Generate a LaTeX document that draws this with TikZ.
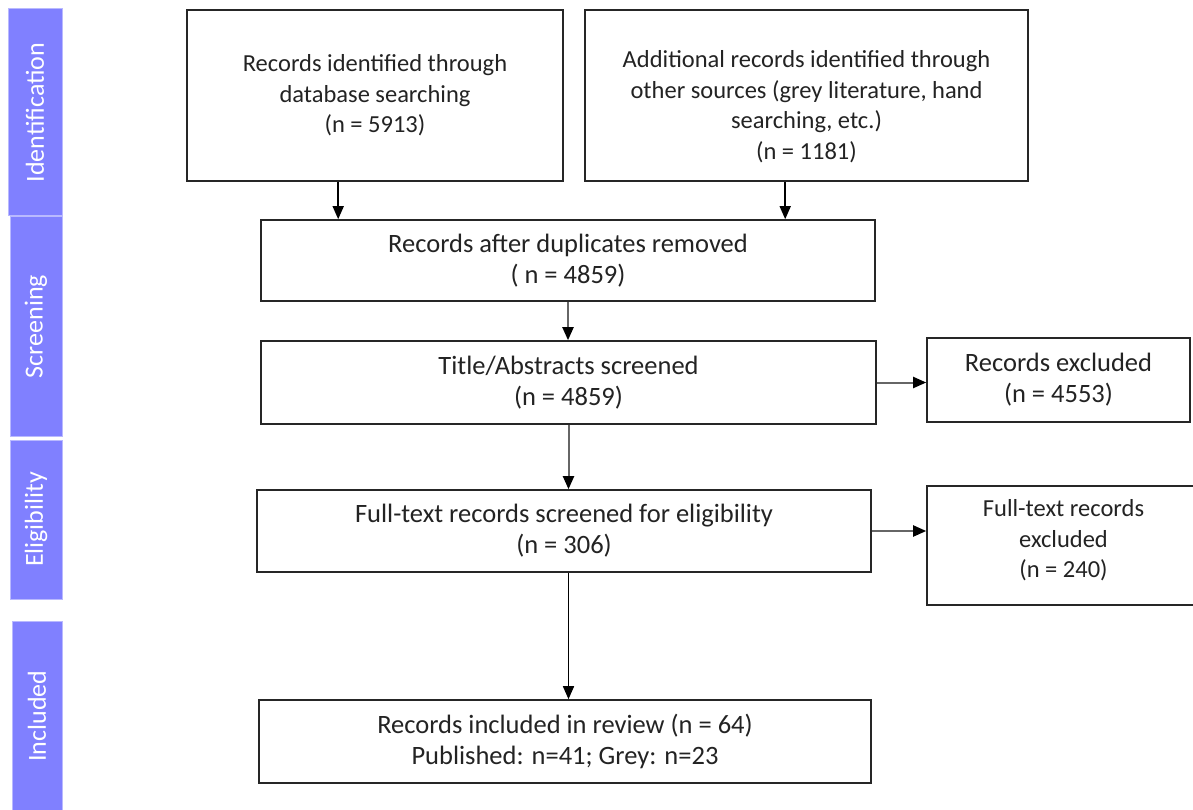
\documentclass[tikz,border=0pt]{standalone}
\usepackage{fontspec}
\setmainfont{Carlito}
\usetikzlibrary{arrows.meta,calc}
\definecolor{barblue}{RGB}{128,128,255}
\definecolor{txt}{RGB}{35,35,35}
\begin{document}
\begin{tikzpicture}[x=1pt,y=-1pt,
  box/.style={draw=black!85, line width=1.6pt, align=center, inner sep=0pt, text=txt, font=\fontsize{24.5}{30.5}\selectfont},
  bigbox/.style={box, font=\fontsize{26.5}{31}\selectfont},
  plain/.style={align=center, inner sep=0pt, text=txt, font=\fontsize{24.5}{30.5}\selectfont},
  phase/.style={fill=barblue, draw=barblue!55!white, line width=1pt, text=white, font=\fontsize{26}{30}\selectfont, rotate=90, inner sep=0pt},
  arr/.style={line width=1.5pt, draw=black, -{Triangle[length=13pt,width=11pt]}},
  garr/.style={line width=2pt, draw=black!60, -{Triangle[length=13pt,width=11pt,color=black]}}]
\clip (0,0) rectangle (1193,810);
\fill[white] (0,0) rectangle (1193,810);
% phase bars
\node[phase, minimum width=207pt, minimum height=54pt] (p1) at (35,112.5) {Identification};
\node[phase, minimum width=219pt, minimum height=52pt] (p2) at (36,326.5) {Screening};
\node[phase, minimum width=159pt, minimum height=52pt] (p3) at (36,519.5) {Eligibility};
\node[phase, minimum width=189pt, minimum height=50pt] (p4) at (37,716) {Included};
% boxes
\node[box, minimum width=376pt, minimum height=171pt] (A) at (375,95.5) {Records identified through\\database searching\\(n = 5913)};
\node[box, minimum width=443pt, minimum height=171pt] (B) at (806.5,95.5) {};
\node[plain] (Bt) at ([yshift=-11pt]B.center) {Additional records identified through\\other sources (grey literature, hand\\searching, etc.)\\(n = 1181)};
\node[bigbox, minimum width=614pt, minimum height=81pt] (C) at (568,260.5) {Records after duplicates removed\\( n = 4859)};
\node[bigbox, minimum width=615pt, minimum height=83pt] (D) at (568.5,382.5) {Title/Abstracts screened\\(n = 4859)};
\node[bigbox, minimum width=263pt, minimum height=84pt] (E) at (1058.5,380) {Records excluded\\(n = 4553)};
\node[bigbox, minimum width=614pt, minimum height=82pt] (F) at (564,531) {Full-text records screened for eligibility\\(n = 306)};
\node[box, minimum width=273pt, minimum height=119pt] (G) at (1063.5,545.5) {};
\node[plain] (Gt) at ([yshift=5pt]G.center) {Full-text records\\excluded\\(n = 240)};
\node[bigbox, minimum width=612pt, minimum height=83pt] (H) at (565,741.5) {Records included in review (n = 64)\\Published: n=41; Grey: n=23};
% connectors
\draw[arr] ([xshift=152pt]A.south west) -- ([xshift=152pt]A.south west |- C.north);
\draw[arr] ([xshift=201pt]B.south west) -- ([xshift=201pt]B.south west |- C.north);
\draw[garr] (C.south) -- (C.south |- D.north);
\draw[garr] (D.east) -- (D.east -| E.west);
\draw[garr] (D.south) -- (D.south |- F.north);
\draw[garr] (F.east) -- (F.east -| G.west);
\draw[arr] (D.south |- F.south) -- (D.south |- H.north);
\end{tikzpicture}
\end{document}
